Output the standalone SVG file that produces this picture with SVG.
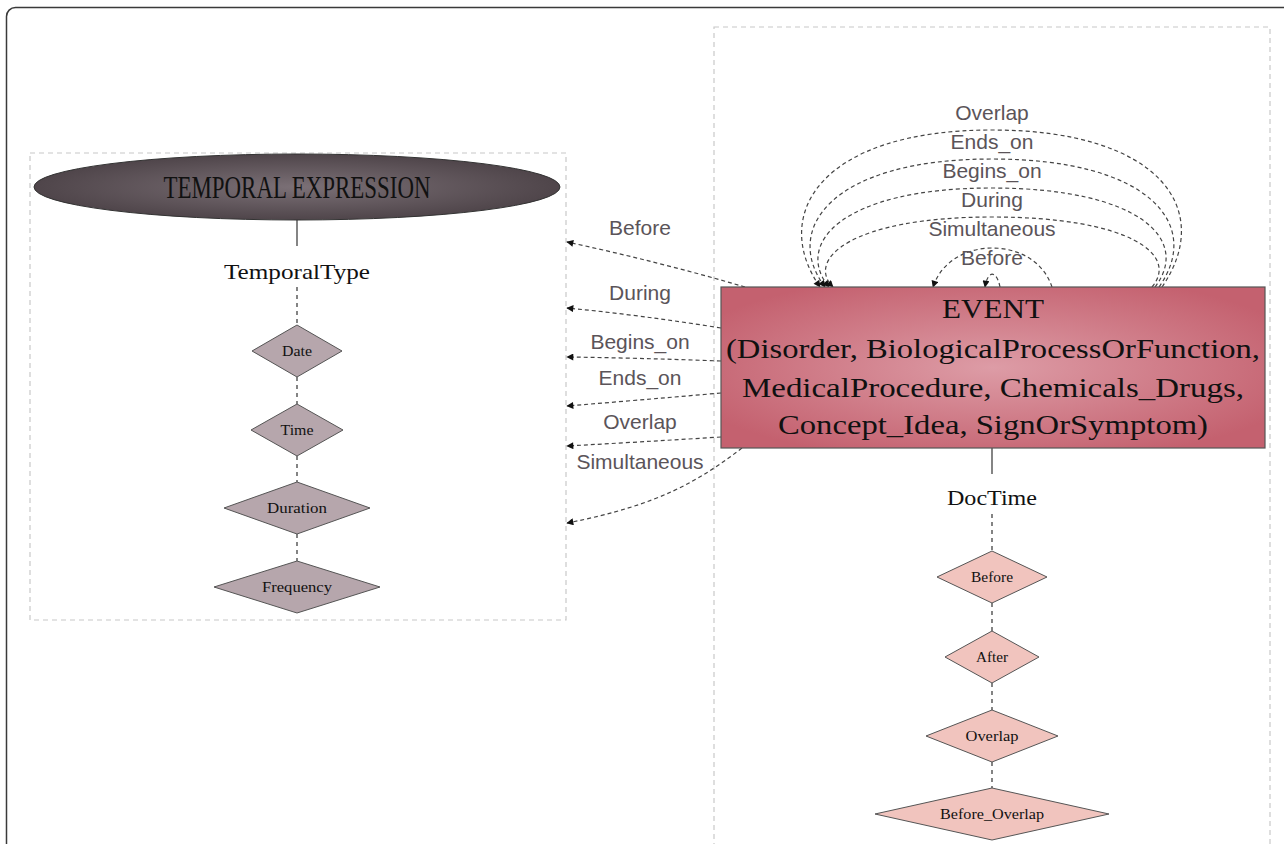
<svg xmlns="http://www.w3.org/2000/svg" width="1284" height="844" viewBox="0 0 1284 844">
<defs>
<radialGradient id="gEll" cx="50%" cy="50%" r="50%">
<stop offset="0" stop-color="#7b7076"/>
<stop offset="1" stop-color="#4f454a"/>
</radialGradient>
<radialGradient id="gEvt" cx="50%" cy="50%" r="60%">
<stop offset="0" stop-color="#dd9ca6"/>
<stop offset="1" stop-color="#c4616f"/>
</radialGradient>
<marker id="arr" viewBox="0 0 10 10" refX="9" refY="5" markerWidth="9" markerHeight="7" markerUnits="userSpaceOnUse" orient="auto">
<path d="M0,0 L10,5 L0,10 Z" fill="#111"/>
</marker>
<style>
.frame{fill:none;stroke:#3a3a3a;stroke-width:1.5}
.box{fill:none;stroke:#c8c8c8;stroke-width:1.2;stroke-dasharray:5 4}
.edge{fill:none;stroke:#444;stroke-width:1.2;stroke-dasharray:4 3}
.solid{fill:none;stroke:#333;stroke-width:1.2}
.vd{fill:none;stroke:#333;stroke-width:1.2;stroke-dasharray:4 4}
.lab{font-family:"Liberation Sans",Arial,sans-serif;font-size:21px;fill:#5b5459;text-anchor:middle}
.serif{font-family:"Liberation Serif","Times New Roman",serif;fill:#111;text-anchor:middle}
.dl{fill:#b6a6ac;stroke:#555;stroke-width:1}
.dr{fill:#f1c4be;stroke:#555;stroke-width:1}
.dt{font-family:"Liberation Serif","Times New Roman",serif;font-size:15px;fill:#111;text-anchor:middle}
</style>
</defs>
<rect class="frame" x="6.5" y="7.5" width="1320" height="900" rx="9"/>
<rect class="box" x="30" y="153" width="536" height="467"/>
<rect class="box" x="714" y="27" width="556" height="840"/>

<g id="connectors">
<line class="solid" x1="297" y1="220" x2="297" y2="246"/>
<line class="vd" x1="297" y1="287" x2="297" y2="325"/>
<line class="vd" x1="297" y1="377" x2="297" y2="404"/>
<line class="vd" x1="297" y1="456" x2="297" y2="482"/>
<line class="vd" x1="297" y1="534" x2="297" y2="561"/>
<line class="solid" x1="992" y1="448" x2="992" y2="474"/>
<line class="vd" x1="992" y1="514" x2="992" y2="551"/>
<line class="vd" x1="992" y1="603" x2="992" y2="631"/>
<line class="vd" x1="992" y1="683" x2="992" y2="710"/>
<line class="vd" x1="992" y1="762" x2="992" y2="788"/>
<path class="edge" marker-end="url(#arr)" d="M745,287 Q660,262 567,242"/>
<path class="edge" marker-end="url(#arr)" d="M721,328 Q640,315 567,308"/>
<path class="edge" marker-end="url(#arr)" d="M721,361 Q640,358 567,357"/>
<path class="edge" marker-end="url(#arr)" d="M721,393 Q640,400 567,406"/>
<path class="edge" marker-end="url(#arr)" d="M721,437 Q640,442 567,446"/>
<path class="edge" marker-end="url(#arr)" d="M742,448 C700,480 660,505 567,523"/>
<path class="edge" marker-end="url(#arr)" d="M1162,287 C1215,210 1160,130 992,130 C820,130 770,215 820,287"/>
<path class="edge" marker-end="url(#arr)" d="M1159,287 C1203,225 1150,159 992,159 C830,159 782,230 825,287"/>
<path class="edge" marker-end="url(#arr)" d="M1155,287 C1191,240 1140,188 992,188 C840,188 794,245 829,287"/>
<path class="edge" marker-end="url(#arr)" d="M1152,287 C1179,255 1130,217 992,217 C850,217 806,260 833,287"/>
<path class="edge" marker-end="url(#arr)" d="M1052,287 C1035,235 950,235 933,287"/>
<path class="edge" marker-end="url(#arr)" d="M1000,287 C997,271 988,269 985,287"/>
<text class="lab" x="640" y="235">Before</text>
<text class="lab" x="640" y="300">During</text>
<text class="lab" x="640" y="349">Begins_on</text>
<text class="lab" x="640" y="385">Ends_on</text>
<text class="lab" x="640" y="429">Overlap</text>
<text class="lab" x="640" y="469">Simultaneous</text>
<text class="lab" x="992" y="120">Overlap</text>
<text class="lab" x="992" y="149">Ends_on</text>
<text class="lab" x="992" y="178">Begins_on</text>
<text class="lab" x="992" y="207">During</text>
<text class="lab" x="992" y="236">Simultaneous</text>
<text class="lab" x="992" y="265">Before</text>
</g>

<g id="temporal-expression">
<ellipse cx="297" cy="187" rx="263" ry="33" fill="url(#gEll)" stroke="#333" stroke-width="1"/>
<text class="serif" x="297" y="198" font-size="31" textLength="267" lengthAdjust="spacingAndGlyphs">TEMPORAL EXPRESSION</text>
</g>
<g id="temporal-type"><text class="serif" x="297" y="279" font-size="22" textLength="146" lengthAdjust="spacingAndGlyphs">TemporalType</text></g>
<g id="date"><polygon class="dl" points="297,325 342,351 297,377 252,351"/><text class="dt" x="297" y="356" textLength="30" lengthAdjust="spacingAndGlyphs">Date</text></g>
<g id="time"><polygon class="dl" points="297,404 343,430 297,456 251,430"/><text class="dt" x="297" y="435" textLength="33" lengthAdjust="spacingAndGlyphs">Time</text></g>
<g id="duration"><polygon class="dl" points="297,482 370,508 297,534 224,508"/><text class="dt" x="297" y="513" textLength="60" lengthAdjust="spacingAndGlyphs">Duration</text></g>
<g id="frequency"><polygon class="dl" points="297,561 380,587 297,613 214,587"/><text class="dt" x="297" y="592" textLength="70" lengthAdjust="spacingAndGlyphs">Frequency</text></g>

<g id="event">
<rect x="721" y="287" width="544" height="161" fill="url(#gEvt)" stroke="#555" stroke-width="1.2"/>
<text class="serif" x="993" y="318" font-size="28" textLength="102" lengthAdjust="spacingAndGlyphs">EVENT</text>
<text class="serif" x="993" y="358" font-size="28" textLength="534" lengthAdjust="spacingAndGlyphs">(Disorder, BiologicalProcessOrFunction,</text>
<text class="serif" x="993" y="397" font-size="28" textLength="502" lengthAdjust="spacingAndGlyphs">MedicalProcedure, Chemicals_Drugs,</text>
<text class="serif" x="993" y="434" font-size="28" textLength="430" lengthAdjust="spacingAndGlyphs">Concept_Idea, SignOrSymptom)</text>
</g>
<g id="doctime"><text class="serif" x="992" y="505" font-size="22" textLength="90" lengthAdjust="spacingAndGlyphs">DocTime</text></g>
<g id="dt-before"><polygon class="dr" points="992,551 1047,577 992,603 937,577"/><text class="dt" x="992" y="582" textLength="42" lengthAdjust="spacingAndGlyphs">Before</text></g>
<g id="dt-after"><polygon class="dr" points="992,631 1039,657 992,683 945,657"/><text class="dt" x="992" y="662" textLength="32" lengthAdjust="spacingAndGlyphs">After</text></g>
<g id="dt-overlap"><polygon class="dr" points="992,710 1058,736 992,762 926,736"/><text class="dt" x="992" y="741" textLength="53" lengthAdjust="spacingAndGlyphs">Overlap</text></g>
<g id="dt-before-overlap"><polygon class="dr" points="992,788 1109,814 992,840 875,814"/><text class="dt" x="992" y="819" textLength="104" lengthAdjust="spacingAndGlyphs">Before_Overlap</text></g>
</svg>
